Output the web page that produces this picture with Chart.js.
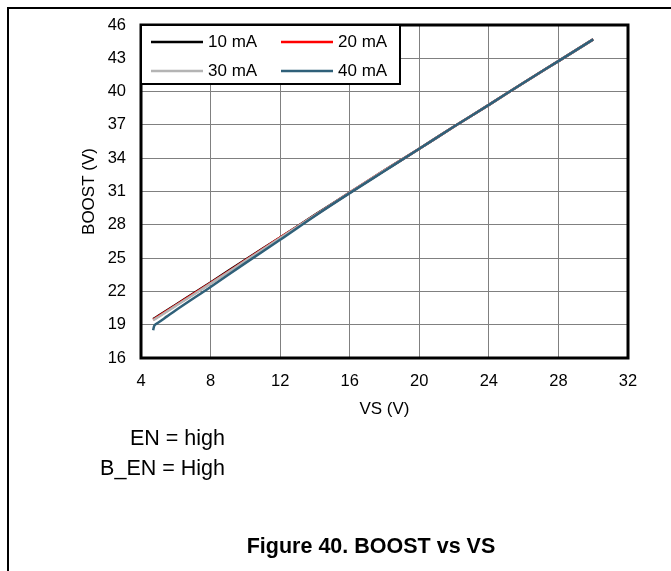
<!DOCTYPE html>
<html>
<head>
<meta charset="utf-8">
<script src="https://cdn.jsdelivr.net/npm/chart.js@4"></script>
<style>
  body { margin: 0; background: #fff; font-family: "Liberation Sans", Arial, sans-serif; }
  #wrap { position: relative; width: 671px; height: 571px; overflow: hidden; background: #fff; }
  #frame { position: absolute; left: 7px; top: 7px; width: 700px; height: 600px; border-left: 2px solid #000; border-top: 2px solid #000; }
  #chart { position: absolute; left: 0; top: 0; }
  .note { position: absolute; right: 446px; font-size: 21.5px; color: #000; white-space: nowrap; line-height: 24px; }
  #caption { position: absolute; left: 0; width: 742px; top: 534px; text-align: center; font-size: 21.5px; font-weight: bold; }
</style>
</head>
<body>
<div id="wrap">
  <div id="frame"></div>
  <canvas id="chart" width="671" height="571"></canvas>
  <div class="note" style="top:426px">EN = high</div>
  <div class="note" style="top:456px">B_EN = High</div>
  <div id="caption">Figure 40. BOOST vs VS</div>
</div>
<script>
  // VS supply points (V)
  const vsMain = [4.7, 5, 6, 8, 10, 12, 14, 16, 18, 20, 22, 24, 26, 28, 30];
  const vs40 = [4.7, 4.75, 4.85, 5, 5.5, 6, 8, 10, 12, 14, 16, 18, 20, 22, 24, 26, 28, 30];

  // BOOST output (V) per load current
  const boost10 = [19.5, 19.8, 20.8, 22.8, 24.85, 26.85, 28.9, 30.9, 32.9, 34.85, 36.85, 38.8, 40.8, 42.75, 44.7];
  const boost20 = [19.45, 19.75, 20.75, 22.75, 24.8, 26.85, 28.85, 30.9, 32.9, 34.85, 36.85, 38.8, 40.8, 42.75, 44.7];
  const boost30 = [19.4, 19.7, 20.7, 22.7, 24.75, 26.8, 28.85, 30.9, 32.9, 34.85, 36.85, 38.8, 40.8, 42.75, 44.7];
  const boost40 = [18.5, 18.85, 19.05, 19.2, 19.75, 20.3, 22.4, 24.55, 26.65, 28.8, 30.85, 32.85, 34.85, 36.85, 38.8, 40.8, 42.75, 44.7];

  const yTicks = [16, 19, 22, 25, 28, 31, 34, 37, 40, 43, 46];
  const xTicks = [4, 8, 12, 16, 20, 24, 28, 32];

  const seriesNames = ['10 mA', '20 mA', '30 mA', '40 mA'];
  const seriesColors = ['#000000', '#ff0000', '#b4b4b4', '#2f6079'];

  function toPoints(xs, ys) {
    return xs.map((x, i) => ({ x: x, y: ys[i] }));
  }

  const FONT = '"Liberation Sans", Arial, sans-serif';

  // plot frame + boxed legend
  const framePlugin = {
    id: 'framePlugin',
    afterDatasetsDraw(chart) {
      const ctx = chart.ctx;
      const a = chart.chartArea;
      ctx.save();
      ctx.strokeStyle = '#000';
      ctx.lineWidth = 3;
      ctx.strokeRect(a.left, a.top, a.right - a.left, a.bottom - a.top);

      // legend box
      const bx = a.left, by = a.top, bw = 259, bh = 59;
      ctx.fillStyle = '#fff';
      ctx.fillRect(bx, by, bw, bh);
      ctx.lineWidth = 2;
      ctx.strokeRect(bx, by, bw, bh);

      ctx.font = '17px ' + FONT;
      ctx.textBaseline = 'middle';
      ctx.textAlign = 'left';
      seriesNames.forEach((name, i) => {
        const col = i % 2, row = Math.floor(i / 2);
        const x0 = bx + 10 + col * 130;
        const y0 = by + 17 + row * 29;
        ctx.strokeStyle = seriesColors[i];
        ctx.lineWidth = 2.5;
        ctx.beginPath();
        ctx.moveTo(x0, y0);
        ctx.lineTo(x0 + 52, y0);
        ctx.stroke();
        ctx.fillStyle = '#000';
        ctx.fillText(name, x0 + 57, y0);
      });
      ctx.restore();
    }
  };

  const datasets = [
    { label: seriesNames[0], data: toPoints(vsMain, boost10), order: 4 },
    { label: seriesNames[1], data: toPoints(vsMain, boost20), order: 3 },
    { label: seriesNames[2], data: toPoints(vsMain, boost30), order: 2 },
    { label: seriesNames[3], data: toPoints(vs40, boost40), order: 1 }
  ].map((d, i) => Object.assign(d, {
    borderColor: seriesColors[i],
    backgroundColor: seriesColors[i],
    borderWidth: 2.5,
    pointRadius: 0,
    showLine: true,
    cubicInterpolationMode: 'monotone',
    fill: false
  }));

  new Chart(document.getElementById('chart'), {
    type: 'scatter',
    data: { datasets: datasets },
    options: {
      responsive: false,
      animation: false,
      layout: { padding: { left: 75, top: 25, right: 43, bottom: 151 } },
      plugins: { legend: { display: false }, tooltip: { enabled: false } },
      scales: {
        x: {
          type: 'linear',
          min: 4, max: 32,
          afterBuildTicks: (s) => { s.ticks = xTicks.map(v => ({ value: v })); },
          afterFit: (s) => { s.height = 62; },
          grid: { color: '#808080', lineWidth: 1, drawTicks: false },
          border: { display: false },
          ticks: { color: '#000', font: { size: 16.5, family: FONT }, padding: 14, maxRotation: 0 },
          title: { display: true, text: 'VS (V)', color: '#000', font: { size: 17, family: FONT }, padding: { top: 0, bottom: 0 } }
        },
        y: {
          type: 'linear',
          min: 16, max: 46,
          afterBuildTicks: (s) => { s.ticks = yTicks.map(v => ({ value: v })); },
          afterFit: (s) => { s.width = 66; },
          grid: { color: '#808080', lineWidth: 1, drawTicks: false },
          border: { display: false },
          ticks: { color: '#000', font: { size: 16.5, family: FONT }, padding: 15 },
          title: { display: true, text: 'BOOST (V)', color: '#000', font: { size: 17, family: FONT }, padding: { top: 4, bottom: 0 } }
        }
      }
    },
    plugins: [framePlugin]
  });
</script>
</body>
</html>
